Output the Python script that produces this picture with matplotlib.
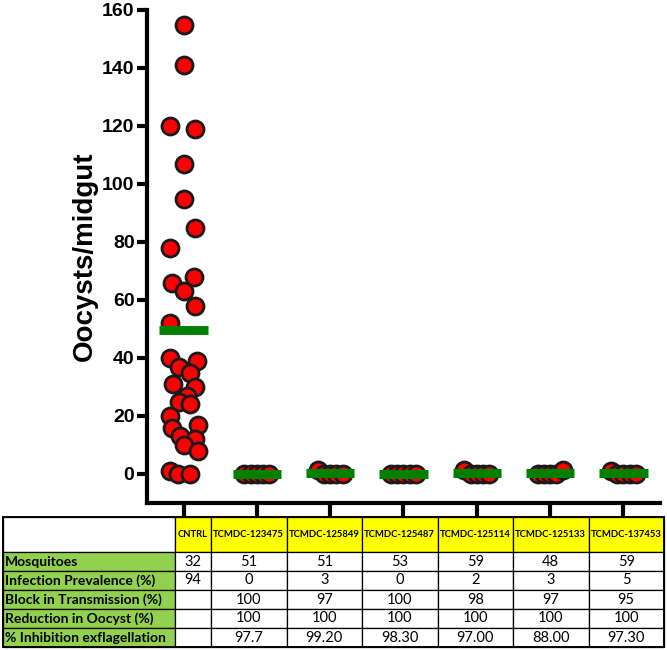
"""
Oocyst counts per midgut (scatter + mean bar) with a summary table below.
"""

import matplotlib

matplotlib.use("Agg")
import matplotlib.pyplot as plt
import numpy as np
from matplotlib.patches import Rectangle

# ---------------------------------------------------------------------------
# Data
# ---------------------------------------------------------------------------
GROUPS = ["CNTRL", "TCMDC-123475", "TCMDC-125849", "TCMDC-125487",
          "TCMDC-125114", "TCMDC-125133", "TCMDC-137453"]

CNTRL_VALUES = [155, 141, 120, 119, 107, 95, 85, 78, 68, 66, 63, 58, 52, 40,
                39, 37, 35, 31, 30, 27, 25, 24, 20, 17, 16, 13, 12, 10, 8, 1,
                0, 0]
CNTRL_JITTER = [0, 0, -0.18, 0.16, 0, 0, 0.16, -0.18, 0.14, -0.16, 0, 0.16,
                -0.18, -0.18, 0.18, -0.07, 0.08, -0.15, 0.15, 0.04, -0.07,
                0.08, -0.19, 0.19, -0.16, -0.05, 0.16, 0.01, 0.19, -0.19,
                -0.08, 0.08]

CMPD_VALUES = [
    [0, 0, 0, 0, 0],
    [1.3, 0, 0, 0, 0],
    [0, 0, 0, 0, 0],
    [1.5, 0, 0, 0, 0],
    [0, 0, 0, 0, 1.5],
    [1.0, 0, 0, 0, 0],
]
CMPD_JITTER = [-0.17, -0.085, 0, 0.085, 0.17]

ROW_LABELS = ["Mosquitoes", "Infection Prevalence (%)", "Block in Transmission (%)",
              "Reduction in Oocyst (%)", "% Inhibition exflagellation"]
TABLE_VALUES = [
    ["32", "51", "51", "53", "59", "48", "59"],
    ["94", "0", "3", "0", "2", "3", "5"],
    ["", "100", "97", "100", "98", "97", "95"],
    ["", "100", "100", "100", "100", "100", "100"],
    ["", "97.7", "99.20", "98.30", "97.00", "88.00", "97.30"],
]

Y_TICKS = [0, 20, 40, 60, 80, 100, 120, 140, 160]

# ---------------------------------------------------------------------------
# Styling
# ---------------------------------------------------------------------------
W, H = 667, 650
RED = "#FF0000"
EDGE = "#1a1a1a"
GREEN_BAR = "#008000"
YELLOW = "#FFFF00"
LABEL_GREEN = "#92D050"
TABLE_FONT = "Lato"

fig = plt.figure(figsize=(W / 100, H / 100), dpi=100)

# main axes in pixel terms: left 147, right 660, top 10, bottom 503
ax = fig.add_axes([147 / W, 1 - 503 / H, (660 - 147) / W, (503 - 10) / H])
ax.set_xlim(-0.5, 6.5)
ax.set_ylim(-10, 160)

marker_kw = dict(s=150, facecolor=RED, edgecolor=EDGE, linewidths=2, zorder=3)
ax.scatter(np.array(CNTRL_JITTER), CNTRL_VALUES, **marker_kw)
for i, vals in enumerate(CMPD_VALUES, start=1):
    ax.scatter(i + np.array(CMPD_JITTER), vals, **marker_kw)

# mean bars
all_groups = [CNTRL_VALUES] + CMPD_VALUES
for i, vals in enumerate(all_groups):
    m = np.mean(vals)
    ax.plot([i - 0.33, i + 0.33], [m, m], color=GREEN_BAR, lw=6.5,
            solid_capstyle="butt", zorder=4)

for side in ["top", "right"]:
    ax.spines[side].set_visible(False)
for side in ["left", "bottom"]:
    ax.spines[side].set_linewidth(3)
    ax.spines[side].set_color("black")
ax.spines["left"].set_bounds(-10, 160)

ax.set_yticks(Y_TICKS)
ax.set_xticks(range(len(GROUPS)))
ax.set_xticklabels([])
ax.tick_params(axis="y", direction="out", length=7, width=3, pad=2,
               labelsize=14)
ax.tick_params(axis="x", direction="out", length=9, width=3)
for lab in ax.get_yticklabels():
    lab.set_fontfamily("Liberation Sans")
    lab.set_fontweight("bold")

ax.set_ylabel("Oocysts/midgut", fontsize=20, fontweight="bold",
              family="Liberation Sans")
ax.yaxis.set_label_coords(-0.095, 0.5)

# ---------------------------------------------------------------------------
# Table drawn in pixel coordinates
# ---------------------------------------------------------------------------
tax = fig.add_axes([0, 0, 1, 1], zorder=-1)
tax.set_xlim(0, W)
tax.set_ylim(H, 0)
tax.axis("off")

col_w = [172, 36] + [75.5] * 6
x_edges = np.concatenate([[3], 3 + np.cumsum(col_w)])
row_h = [35] + [19] * 5
y_edges = np.concatenate([[517], 517 + np.cumsum(row_h)])

for r in range(len(row_h)):
    for c in range(len(col_w)):
        if r == 0:
            fc = "white" if c == 0 else YELLOW
        else:
            fc = LABEL_GREEN if c == 0 else "white"
        tax.add_patch(Rectangle((x_edges[c], y_edges[r]), col_w[c], row_h[r],
                                facecolor=fc, edgecolor="black", lw=0.9))
tax.add_patch(Rectangle((x_edges[0], y_edges[0]), x_edges[-1] - x_edges[0],
                        y_edges[-1] - y_edges[0], fill=False,
                        edgecolor="black", lw=1.4))

# header texts
for c, name in enumerate(GROUPS, start=1):
    xc = (x_edges[c] + x_edges[c + 1]) / 2
    yc = (y_edges[0] + y_edges[1]) / 2
    tax.text(xc, yc, name, ha="center", va="center", fontsize=6.8,
             fontweight="bold", family=TABLE_FONT)

# body rows
for r, label in enumerate(ROW_LABELS, start=1):
    yc = (y_edges[r] + y_edges[r + 1]) / 2
    tax.text(x_edges[0] + 2, yc, label, ha="left", va="center", fontsize=10,
             fontweight="bold", family=TABLE_FONT)
    for c, val in enumerate(TABLE_VALUES[r - 1], start=1):
        xc = (x_edges[c] + x_edges[c + 1]) / 2
        tax.text(xc, yc, val, ha="center", va="center", fontsize=10.5,
                 family=TABLE_FONT)

fig.savefig("out.png", dpi=100)
